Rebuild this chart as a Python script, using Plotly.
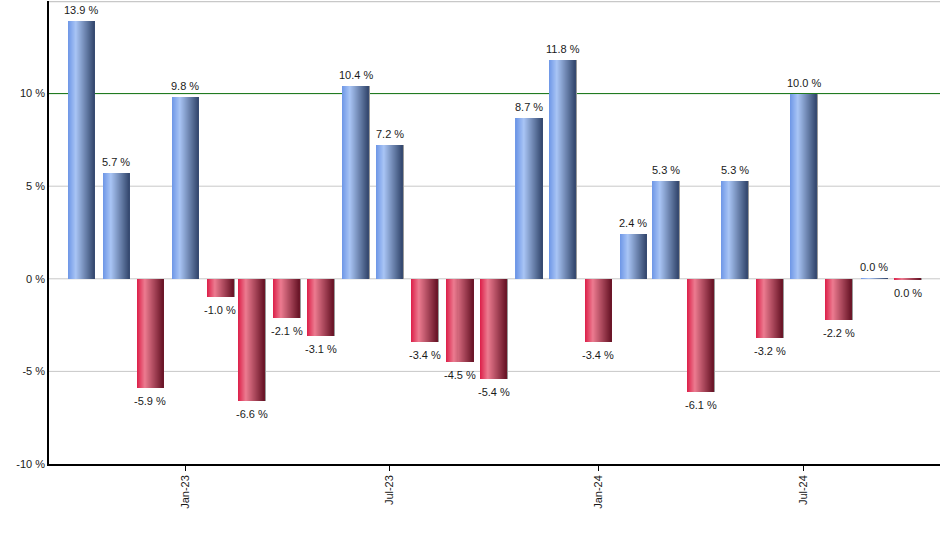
import plotly.graph_objects as go
import pandas as pd

# ---------------- data ----------------
months = ["2022-10-01", "2022-11-01", "2022-12-01", "2023-01-01", "2023-02-01",
          "2023-03-01", "2023-04-01", "2023-05-01", "2023-06-01", "2023-07-01",
          "2023-08-01", "2023-09-01", "2023-10-01", "2023-11-01", "2023-12-01",
          "2024-01-01", "2024-02-01", "2024-03-01", "2024-04-01", "2024-05-01",
          "2024-06-01", "2024-07-01", "2024-08-01", "2024-09-01", "2024-10-01"]
returns = [13.9, 5.7, -5.9, 9.8, -1.0, -6.6, -2.1, -3.1, 10.4, 7.2,
           -3.4, -4.5, -5.4, 8.7, 11.8, -3.4, 2.4, 5.3, -6.1, 5.3,
           -3.2, 10.0, -2.2, 0.04, -0.04]
y_ticks = [-10, -5, 0, 5, 10]
y_tick_labels = ["-10 %", "-5 %", "0 %", "5 %", "10 %"]
grid_levels = [-5, 0, 5]
top_level = 15
x_ticks = ["2023-01-01", "2023-07-01", "2024-01-01", "2024-07-01"]
x_tick_labels = ["Jan-23", "Jul-23", "Jan-24", "Jul-24"]
reference_level = 10

# ---------------- style ----------------
FONT = "Liberation Sans, Arial, sans-serif"
DAY = 86400000
BAR_W = 23 * DAY
N_STRIPS = 26
blue_stops = [(0.0, (0x6d, 0x96, 0xe6)), (0.3, (0xa9, 0xc5, 0xf5)), (1.0, (0x34, 0x48, 0x6e))]
red_stops = [(0.0, (0xdc, 0x1e, 0x48)), (0.3, (0xec, 0x7b, 0x90)), (1.0, (0x68, 0x14, 0x26))]


def grad(stops, t):
    for (p0, c0), (p1, c1) in zip(stops[:-1], stops[1:]):
        if p0 <= t <= p1:
            f = (t - p0) / (p1 - p0)
            c = [round(a + (b - a) * f) for a, b in zip(c0, c1)]
            return "rgb(%d,%d,%d)" % tuple(c)
    c = stops[-1][1]
    return "rgb(%d,%d,%d)" % c


x_dates = pd.to_datetime(months)
fig = go.Figure()

# shadow strip on right edge of each bar
fig.add_trace(go.Bar(
    x=x_dates, y=returns, width=1.4 * DAY, offset=BAR_W / 2 - 0.2 * DAY,
    marker=dict(color="#9a9a9a", line=dict(width=0)), hoverinfo="skip", showlegend=False,
))

strip_w = BAR_W / N_STRIPS
for k in range(N_STRIPS):
    t = (k + 0.5) / N_STRIPS
    cols = [grad(blue_stops if v >= 0 else red_stops, t) for v in returns]
    fig.add_trace(go.Bar(
        x=x_dates, y=returns, width=strip_w * 1.4, offset=-BAR_W / 2 + k * strip_w,
        marker=dict(color=cols, line=dict(width=0)), hoverinfo="skip", showlegend=False,
    ))

# value labels
for d, v in zip(x_dates, returns):
    lab = "%.1f %%" % (abs(v) if round(v, 1) == 0 else v)
    fig.add_annotation(
        x=d, y=v, text=lab, showarrow=False, yanchor="middle",
        yshift=11 if v >= 0 else -13,
        font=dict(family=FONT, size=11, color="#1a1a1a"),
    )

# grid lines and the 10 % reference line (beneath the bars)
for g in grid_levels:
    fig.add_hline(y=g, line=dict(color="#c8c8c8", width=1), layer="below")
fig.add_hline(y=top_level, line=dict(color="#c8c8c8", width=2.5), layer="below")
fig.add_hline(y=reference_level, line=dict(color="#0a6e0a", width=1), layer="below")

x0 = x_dates[0] - pd.Timedelta(days=28.3)
x1 = x_dates[-1] + pd.Timedelta(days=28.3)

fig.update_layout(
    width=940, height=550,
    margin=dict(l=49, r=0, t=1, b=86),
    barmode="overlay", bargap=0,
    plot_bgcolor="white", paper_bgcolor="white",
    font=dict(family=FONT, size=11, color="#1a1a1a"),
    showlegend=False,
    xaxis=dict(
        type="date", range=[x0, x1],
        tickvals=pd.to_datetime(x_ticks), ticktext=x_tick_labels,
        tickangle=-90, ticks="outside", ticklen=5, tickcolor="black", tickwidth=1,
        showgrid=False, showline=True, linecolor="black", linewidth=1.5,
        zeroline=False, tickfont=dict(family=FONT, size=11, color="#1a1a1a"),
    ),
    yaxis=dict(
        range=[-10, top_level], tickvals=y_ticks, ticktext=y_tick_labels,
        ticks="", showgrid=False,
        showline=True, linecolor="black", linewidth=1.5, zeroline=False,
        tickfont=dict(family=FONT, size=11, color="#1a1a1a"),
    ),
)

fig.write_html("out.html", config={"displayModeBar": False},
               post_script="document.body.style.margin='0';")
